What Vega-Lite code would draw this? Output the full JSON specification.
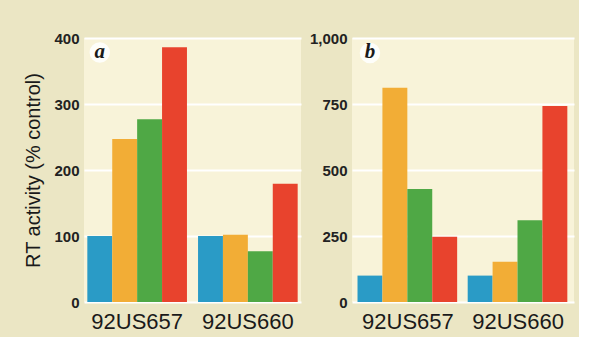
{
  "$schema": "https://vega.github.io/schema/vega-lite/v6.json",
  "background": "#ebe6c4",
  "padding": {"left": 23, "top": 31, "right": 5, "bottom": 5},
  "spacing": 8,
  "datasets": {
    "pa": [
      {"group": "92US657", "series": "s1", "value": 100},
      {"group": "92US657", "series": "s2", "value": 247},
      {"group": "92US657", "series": "s3", "value": 277},
      {"group": "92US657", "series": "s4", "value": 386},
      {"group": "92US660", "series": "s1", "value": 100},
      {"group": "92US660", "series": "s2", "value": 102},
      {"group": "92US660", "series": "s3", "value": 77},
      {"group": "92US660", "series": "s4", "value": 179}
    ],
    "pb": [
      {"group": "92US657", "series": "s1", "value": 100},
      {"group": "92US657", "series": "s2", "value": 812},
      {"group": "92US657", "series": "s3", "value": 428},
      {"group": "92US657", "series": "s4", "value": 247},
      {"group": "92US660", "series": "s1", "value": 100},
      {"group": "92US660", "series": "s2", "value": 152},
      {"group": "92US660", "series": "s3", "value": 310},
      {"group": "92US660", "series": "s4", "value": 742}
    ],
    "la": [{"group": "92US657", "series": "s1", "value": 378, "label": "a"}],
    "lb": [{"group": "92US657", "series": "s1", "value": 943, "label": "b"}]
  },
  "config": {
    "font": "Liberation Sans",
    "view": {"stroke": null, "fill": "#f8f3d9"},
    "axis": {"domain": false, "ticks": false},
    "axisY": {"grid": true, "gridColor": "#ffffff", "gridWidth": 2, "labelFontSize": 15, "labelFontWeight": "bold", "labelColor": "#222222", "labelPadding": 5},
    "axisX": {"labelFontSize": 22, "labelColor": "#1a1a1a", "labelPadding": 9, "labelAngle": 0, "title": null}
  },
  "hconcat": [
    {
      "width": 217,
      "height": 264,
      "layer": [
        {
          "data": {"name": "pa"},
          "mark": {"type": "bar"},
          "encoding": {
            "x": {"field": "group", "type": "nominal", "scale": {"paddingInner": 0.1, "paddingOuter": 0.03}},
            "xOffset": {"field": "series", "type": "nominal", "scale": {"paddingInner": 0, "paddingOuter": 0}},
            "y": {"field": "value", "type": "quantitative", "scale": {"domain": [0, 400], "nice": false}, "axis": {"values": [0, 100, 200, 300, 400], "format": "d", "title": "RT activity (% control)", "titleFontSize": 20, "titleFontWeight": "normal", "titleColor": "#1a1a1a", "titlePadding": 10}},
            "color": {"field": "series", "type": "nominal", "legend": null, "scale": {"domain": ["s1", "s2", "s3", "s4"], "range": ["#2a9bc6", "#f2ad36", "#4fa845", "#e8432d"]}}
          }
        },
        {
          "data": {"name": "la"},
          "mark": {"type": "point", "filled": true, "color": "#ffffff", "opacity": 0.85, "size": 420},
          "encoding": {
            "x": {"field": "group", "type": "nominal"},
            "xOffset": {"field": "series", "type": "nominal"},
            "y": {"field": "value", "type": "quantitative"}
          }
        },
        {
          "data": {"name": "la"},
          "mark": {"type": "text", "font": "Liberation Serif", "fontStyle": "italic", "fontWeight": "bold", "fontSize": 21, "color": "#1a1a1a", "baseline": "middle", "dy": -1},
          "encoding": {
            "x": {"field": "group", "type": "nominal"},
            "xOffset": {"field": "series", "type": "nominal"},
            "y": {"field": "value", "type": "quantitative"},
            "text": {"field": "label"}
          }
        }
      ]
    },
    {
      "width": 222,
      "height": 264,
      "layer": [
        {
          "data": {"name": "pb"},
          "mark": {"type": "bar"},
          "encoding": {
            "x": {"field": "group", "type": "nominal", "scale": {"paddingInner": 0.085, "paddingOuter": 0.05}},
            "xOffset": {"field": "series", "type": "nominal", "scale": {"paddingInner": 0, "paddingOuter": 0}},
            "y": {"field": "value", "type": "quantitative", "scale": {"domain": [0, 1000], "nice": false}, "axis": {"values": [0, 250, 500, 750, 1000], "format": ",d", "title": null}},
            "color": {"field": "series", "type": "nominal", "legend": null, "scale": {"domain": ["s1", "s2", "s3", "s4"], "range": ["#2a9bc6", "#f2ad36", "#4fa845", "#e8432d"]}}
          }
        },
        {
          "data": {"name": "lb"},
          "mark": {"type": "point", "filled": true, "color": "#ffffff", "opacity": 0.85, "size": 420},
          "encoding": {
            "x": {"field": "group", "type": "nominal"},
            "xOffset": {"field": "series", "type": "nominal"},
            "y": {"field": "value", "type": "quantitative"}
          }
        },
        {
          "data": {"name": "lb"},
          "mark": {"type": "text", "font": "Liberation Serif", "fontStyle": "italic", "fontWeight": "bold", "fontSize": 21, "color": "#1a1a1a", "baseline": "middle", "dy": -1},
          "encoding": {
            "x": {"field": "group", "type": "nominal"},
            "xOffset": {"field": "series", "type": "nominal"},
            "y": {"field": "value", "type": "quantitative"},
            "text": {"field": "label"}
          }
        }
      ]
    }
  ]
}
